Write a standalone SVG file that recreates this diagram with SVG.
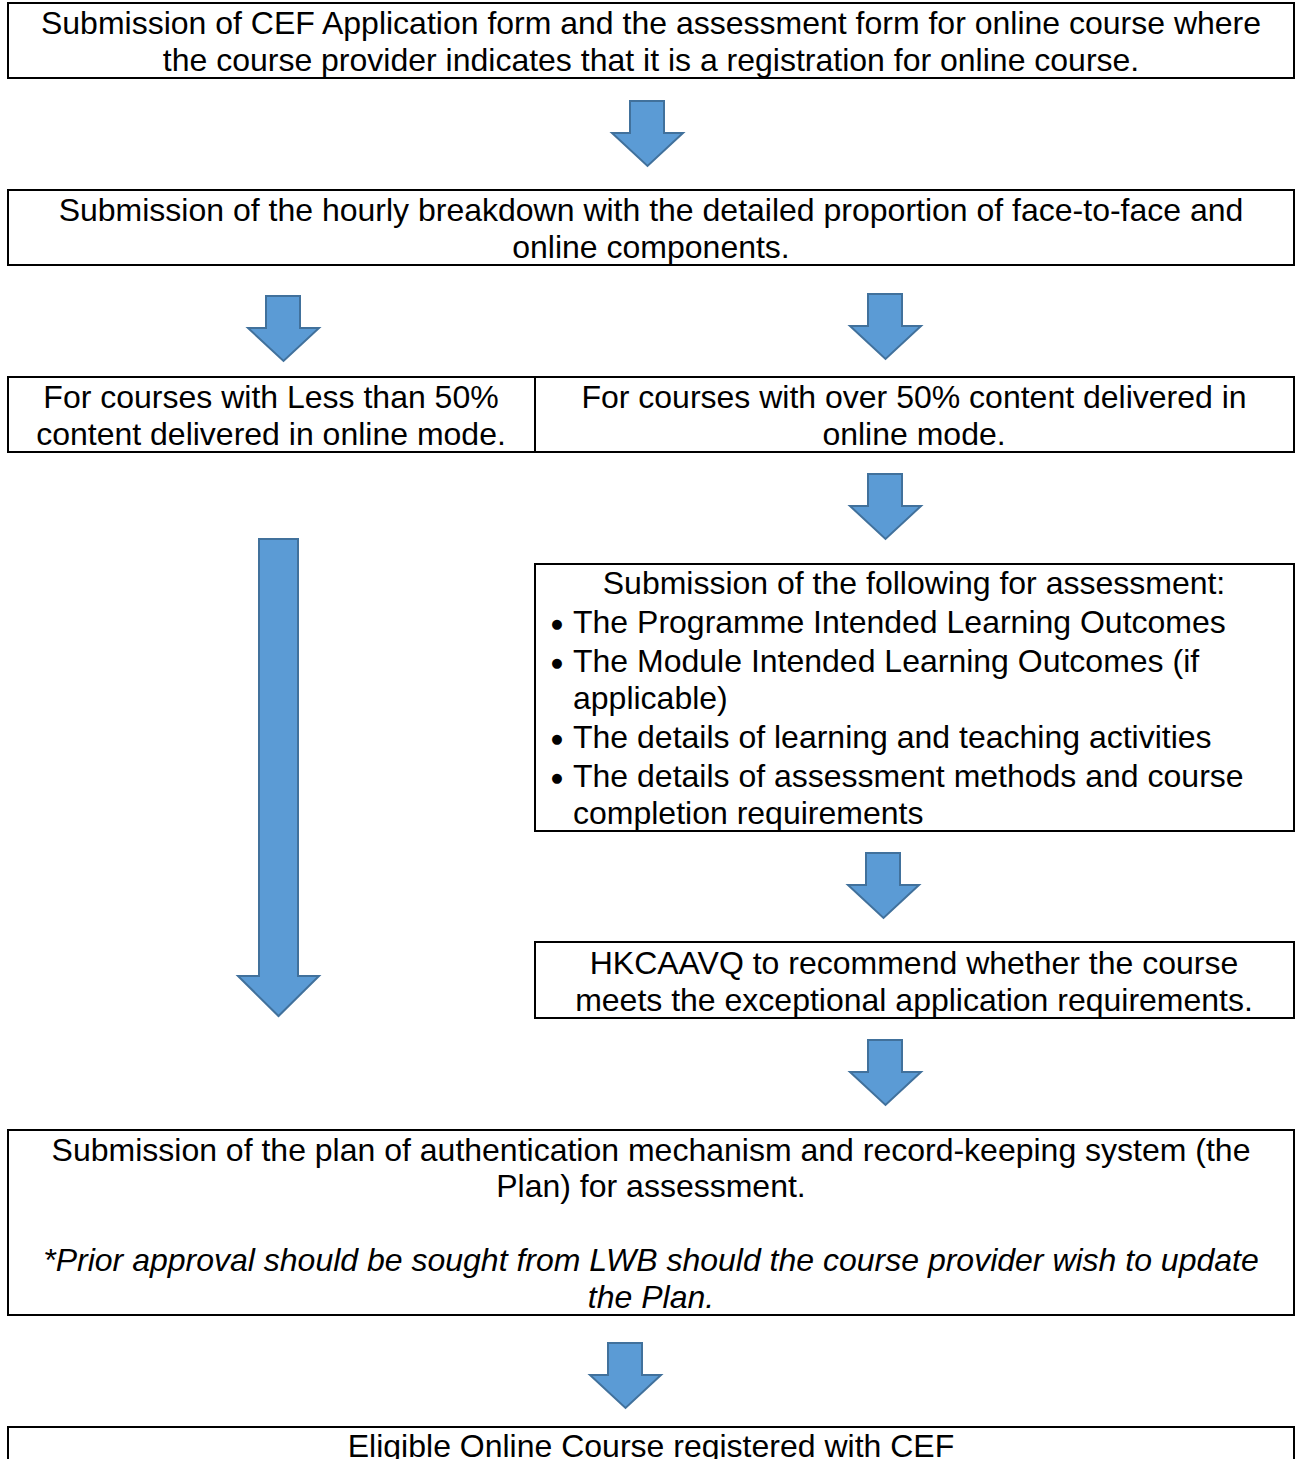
<svg xmlns="http://www.w3.org/2000/svg" xmlns:xlink="http://www.w3.org/1999/xlink" width="1295" height="1459" viewBox="0 0 1295 1459">
<style>
.box{fill:#fff;stroke:#000;stroke-width:2}
.t{font-family:"Liberation Sans",Arial,sans-serif;font-size:32px;fill:#000}
.c{text-anchor:middle}
.i{font-style:italic}
.b{font-family:"DejaVu Sans",sans-serif;font-size:13px;fill:#000;text-anchor:middle}
.arr{fill:#5B9BD5;stroke:#41719C;stroke-width:2;stroke-linejoin:miter}
</style>
<defs>
<path id="a" d="M18,0 H52 V32 H71 L35.5,65 L0,32 H18 Z"/>
</defs>
<g id="connectors">
<use xlink:href="#a" class="arr" x="612" y="101"/>
<use xlink:href="#a" class="arr" x="248" y="296"/>
<use xlink:href="#a" class="arr" x="850" y="294"/>
<use xlink:href="#a" class="arr" x="850" y="474"/>
<path class="arr" d="M259,539 H298 V976 H319 L278.5,1016 L238,976 H259 Z"/>
<use xlink:href="#a" class="arr" x="848" y="853"/>
<use xlink:href="#a" class="arr" x="850" y="1040"/>
<use xlink:href="#a" class="arr" x="590" y="1343"/>
</g>
<g id="n1">
<rect class="box" x="8" y="3" width="1286" height="75"/>
<text class="t c" x="651" y="34">Submission of CEF Application form and the assessment form for online course where</text>
<text class="t c" x="651" y="71">the course provider indicates that it is a registration for online course.</text>
</g>
<g id="n2">
<rect class="box" x="8" y="190" width="1286" height="75"/>
<text class="t c" x="651" y="221">Submission of the hourly breakdown with the detailed proportion of face-to-face and</text>
<text class="t c" x="651" y="258">online components.</text>
</g>
<g id="n3">
<rect class="box" x="8" y="377" width="527" height="75"/>
<text class="t c" x="271" y="408">For courses with Less than 50%</text>
<text class="t c" x="271" y="445">content delivered in online mode.</text>
</g>
<g id="n4">
<rect class="box" x="535" y="377" width="759" height="75"/>
<text class="t c" x="914" y="408">For courses with over 50% content delivered in</text>
<text class="t c" x="914" y="445">online mode.</text>
</g>
<g id="n5">
<rect class="box" x="535" y="564" width="759" height="267"/>
<text class="t c" x="914" y="594">Submission of the following for assessment:</text>
<text class="b" x="557" y="628">●</text>
<text class="t" x="573" y="633">The Programme Intended Learning Outcomes</text>
<text class="b" x="557" y="667">●</text>
<text class="t" x="573" y="672">The Module Intended Learning Outcomes (if</text>
<text class="t" x="573" y="709">applicable)</text>
<text class="b" x="557" y="743">●</text>
<text class="t" x="573" y="748">The details of learning and teaching activities</text>
<text class="b" x="557" y="782">●</text>
<text class="t" x="573" y="787">The details of assessment methods and course</text>
<text class="t" x="573" y="824">completion requirements</text>
</g>
<g id="n6">
<rect class="box" x="535" y="942" width="759" height="76"/>
<text class="t c" x="914" y="974">HKCAAVQ to recommend whether the course</text>
<text class="t c" x="914" y="1011">meets the exceptional application requirements.</text>
</g>
<g id="n7">
<rect class="box" x="8" y="1130" width="1286" height="185"/>
<text class="t c" x="651" y="1161">Submission of the plan of authentication mechanism and record-keeping system (the</text>
<text class="t c" x="651" y="1197">Plan) for assessment.</text>
<text class="t c i" x="651" y="1271">*Prior approval should be sought from LWB should the course provider wish to update</text>
<text class="t c i" x="651" y="1308">the Plan.</text>
</g>
<g id="n8">
<rect class="box" x="8" y="1427" width="1286" height="50"/>
<text class="t c" x="651" y="1457">Eligible Online Course registered with CEF</text>
</g>
</svg>
